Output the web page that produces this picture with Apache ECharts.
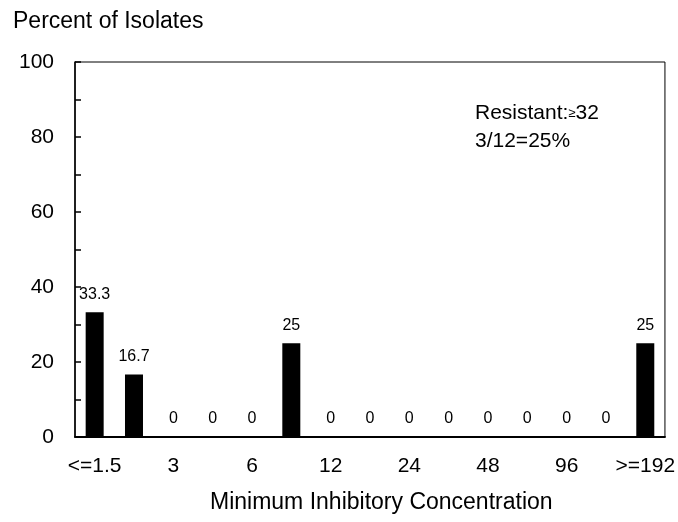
<!DOCTYPE html>
<html>
<head>
<meta charset="utf-8">
<script src="https://cdn.jsdelivr.net/npm/echarts@6/dist/echarts.min.js"></script>
<style>html,body{margin:0;padding:0;background:#fff;}#c{width:678px;height:522px;}</style>
</head>
<body>
<div id="c"></div>
<script>
const categories = ['<=1.5','2','3','4','6','8','12','16','24','32','48','64','96','128','>=192'];
const percentValues = [33.3, 16.7, 0, 0, 0, 25, 0, 0, 0, 0, 0, 0, 0, 0, 25];
const yTicks = [0, 20, 40, 60, 80, 100];

const FONT = '"Liberation Sans", Arial, sans-serif';
const chart = echarts.init(document.getElementById('c'), null, {renderer: 'canvas'});
chart.setOption({
  animation: false,
  backgroundColor: '#fff',
  grid: {left: 75, right: 11, top: 62, bottom: 85, show: true, borderColor: '#000', borderWidth: 1, containLabel: false},
  xAxis: {
    type: 'category',
    data: categories,
    axisLine: {lineStyle: {color: '#000', width: 2}},
    axisTick: {show: false},
    axisLabel: {interval: 1, color: '#000', fontFamily: FONT, fontSize: 21, margin: 19},
    splitLine: {show: false}
  },
  yAxis: {
    type: 'value',
    min: yTicks[0], max: yTicks[yTicks.length - 1], interval: 20,
    axisLine: {show: true, lineStyle: {color: '#000', width: 1.5}},
    axisTick: {show: true, inside: true, length: 6, lineStyle: {color: '#000', width: 1.5}},
    minorTick: {show: true, splitNumber: 2, length: 6, lineStyle: {color: '#000', width: 1.5}},
    axisLabel: {color: '#000', fontFamily: FONT, fontSize: 21, margin: 21},
    splitLine: {show: false}
  },
  series: [{
    type: 'bar',
    data: percentValues,
    barWidth: 18,
    itemStyle: {color: '#000'},
    label: {show: true, position: 'top', distance: 10, color: '#000', fontFamily: FONT, fontSize: 16}
  }],
  graphic: [
    {type: 'text', left: 13, top: 10, style: {text: 'Percent of Isolates', font: '23px ' + FONT, fill: '#000'}},
    {type: 'text', left: 210, top: 491, style: {text: 'Minimum Inhibitory Concentration', font: '23px ' + FONT, fill: '#000'}},
    {type: 'text', left: 475, top: 99, style: {
      text: 'Resistant:{s|≥}32\n3/12=25%', font: '21px ' + FONT, fill: '#000', lineHeight: 28,
      rich: {s: {fontSize: 13, fontFamily: FONT, fill: '#000'}}
    }}
  ]
});
</script>
</body>
</html>
